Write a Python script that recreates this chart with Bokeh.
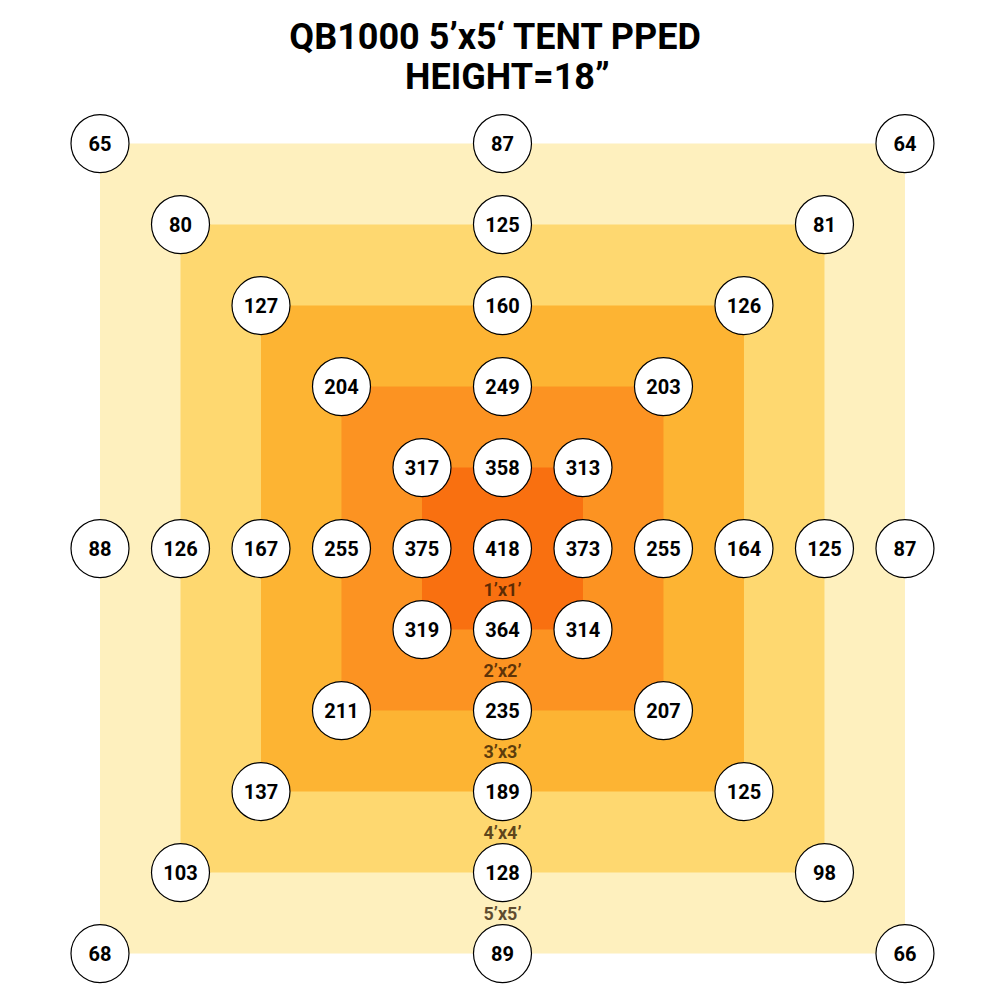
from bokeh.plotting import figure
from bokeh.embed import file_html
from bokeh.resources import INLINE
from bokeh.core.properties import value

# ---- data ----
title_lines = ["QB1000 5\u2019x5\u2018 TENT PPED", "HEIGHT=18\u201d"]

# nested coverage squares (side length in feet) and their fills
square_sizes = [5, 4, 3, 2, 1]
square_colors = ["#FEF0BE", "#FED870", "#FDB433", "#FC9322", "#F97010"]
square_labels = ["5\u2019x5\u2019", "4\u2019x4\u2019", "3\u2019x3\u2019", "2\u2019x2\u2019", "1\u2019x1\u2019"]

# PPFD readings: position in feet from tent centre, and value
pt_x = [-2.5, 0, 2.5,
        -2, 0, 2,
        -1.5, 0, 1.5,
        -1, 0, 1,
        -0.5, 0, 0.5,
        -2.5, -2, -1.5, -1, -0.5, 0, 0.5, 1, 1.5, 2, 2.5,
        -0.5, 0, 0.5,
        -1, 0, 1,
        -1.5, 0, 1.5,
        -2, 0, 2,
        -2.5, 0, 2.5]
pt_y = [2.5, 2.5, 2.5,
        2, 2, 2,
        1.5, 1.5, 1.5,
        1, 1, 1,
        0.5, 0.5, 0.5,
        0, 0, 0, 0, 0, 0, 0, 0, 0, 0, 0,
        -0.5, -0.5, -0.5,
        -1, -1, -1,
        -1.5, -1.5, -1.5,
        -2, -2, -2,
        -2.5, -2.5, -2.5]
pt_val = [65, 87, 64,
          80, 125, 81,
          127, 160, 126,
          204, 249, 203,
          317, 358, 313,
          88, 126, 167, 255, 375, 418, 373, 255, 164, 125, 87,
          319, 364, 314,
          211, 235, 207,
          137, 189, 125,
          103, 128, 98,
          68, 89, 66]

FONT = "Roboto"

p = figure(width=984, height=984, x_range=(-3.118, 2.994), y_range=(-2.691, 3.383),
           output_backend="svg", toolbar_location=None, min_border=0,
           min_border_left=0, min_border_right=0, min_border_top=0, min_border_bottom=0)
p.axis.visible = False
p.grid.visible = False
p.outline_line_color = None
p.background_fill_color = "white"
p.border_fill_color = "white"

# squares
p.rect(x=[0] * len(square_sizes), y=[0] * len(square_sizes),
       width=square_sizes, height=square_sizes,
       fill_color=square_colors, line_color=None)

# square labels, placed between the centre column's circles below each square edge
lab_y = [-(s / 2) + 0.25 for s in square_sizes]
p.text(x=[0] * len(square_sizes), y=lab_y, text=square_labels,
       text_align="center", text_baseline="middle",
       text_font=value(FONT), text_font_style="bold", text_font_size="18px",
       text_color="#2a1400", text_alpha=0.75)

# reading circles
p.scatter(x=pt_x, y=pt_y, marker="circle", size=58,
          fill_color="white", line_color="black", line_width=1.2)
p.text(x=pt_x, y=pt_y, text=[str(v) for v in pt_val],
       text_align="center", text_baseline="middle",
       text_font=value(FONT), text_font_style="bold", text_font_size="20px",
       text_color="black")

# title
p.text(x=[-0.04, 0.03], y=[3.155, 2.908], text=title_lines,
       text_align="center", text_baseline="alphabetic",
       text_font=value(FONT), text_font_style="bold", text_font_size="36px",
       text_color="black")

open("out.html", "w").write(file_html(p, INLINE))
